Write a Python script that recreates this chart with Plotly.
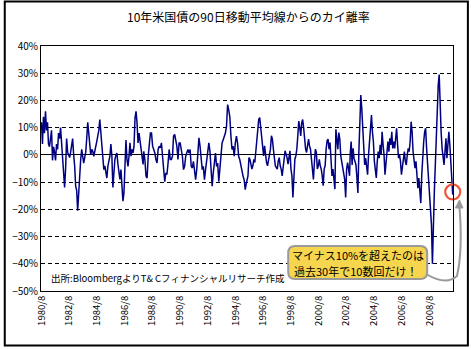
import plotly.graph_objects as go
import pandas as pd

# ---- data (percent deviation from 90-day moving average) ----
seg1_start, seg1_end = "1980-08-01", "1987-12-01"
seg1_vals = [12, 4, 14, 8, 16, 9, 12, 4, 3, 6, 9, -2, 3, 1, -2, 4, 2, 8, 6, 10, 5, 0, -6, -12,
             -5, 6, 1, 0, -1, 1, 3, 6, 0, -4, -11.5, -13, -20.5, -13, -5.5, -1.7, 2, -0.5, -3,
             -1, 1, 6, 12, 8, 4.5, 0, 2, 1.3, -0.5, 1, 3, 5, 7, 9, 13, 8, 3, -0.5, -5.4, -4,
             -6.5, -8.5, -4.2, -1.7, -0.5, 4, -0.5, -12, -6.5, -1.7, 0, 0.7, -3.4, -7, -9, -5.4,
             -11.5, -17, -14, -0.5, 5.5, -1.7, -4.2, -0.5, 4.4, -0.5, 2, 0.7, 3.2, 13.6, 16,
             11.8, 4.4, 8, 5.5, 2, -0.5, -3.5]

seg2_start, seg2_end = "1987-12-20", "1995-05-15"
seg2_vals = [1.3, -1.7, -7.8, -8.5, -0.5, 4.4, 8, 8, 3.2, 2, 0.7, -1.7, -3, 2, 3.2, 2.6, 4.4,
             -0.5, -5.4, -9.8, -6.6, -7.2, -3, 2, -1.7, -1.7, -0.5, 6.9, 7.5, 5.5, 3.2, -1.7,
             4.4, 4.4, 2, -0.5, -5.4, -4.2, -0.5, 0.7, 2, 0.7, 2, -4.2, -4.8, -2.4, -5.4, -9.1,
             -5.4, 2, 6.3, 3.2, -2.4, -5.4, -4.2, -9.1, -5.4, -1.7, 2, 4.4, 1.3, -4.2, -11.5,
             -6.6, -1.7, 0.7, -4.2, -3, -9.8, -5.4, 1.3, 4.4, 5.6, 6.9, 8, 10.5, 18.5, 16.5, 14,
             6.9, 2, 3.2, -0.5, 4.4, 6.9, 4.4, -0.5, -1.7, -4.2, -5.4, -7.8, -9.1, -12.8, -10.4]

seg3_start, seg3_end = "1995-06-01", "2002-10-25"
seg3_vals = [-9, -7.7, -1, -1.6, -3.4, -5.2, -4.0, -1.6, -2.8, 0.9, 5.7, 10.6, 13, 13.7, 9.4, 7,
             2.1, -0.4, 3.3, -1.6, -2.8, -4.0, -1.6, 0.9, 2.1, 7, 5.8, 2.1, -1.6, -4.0, -4.7,
             -5.2, -2.2, -1, -4.0, -5.2, -7.7, -4.0, -1.6, 1.5, 0.2, -1, -3.4, -0.4, 1.5, -5.2,
             -7.7, -15.6, -9, -1.6, -0.4, 2.1, 7, 12.4, 9.9, 7, 11.8, 13, 9.9, 4.5, 2.1, 0.9, 2.7,
             5.8, 3.3, 2.1, -1.6, -5.2, -9, -2.8, 2.1, 0.9, -5.2, -4.0, -1.6, -4.0, -5.2, -7.7,
             -11.3, -5.2, -4.0, 2.1, 5.2, 5.8, 2.1, 4.5, -5.2, -7.7, -5.2, -9, -12.6, 9.4, 5.8,
             2.1, 8.2, 5.8, -0.4, -2.8, -5.2, -6.4, -9, -15.6, -5.2, -2.8, -5.2, -7.7]

seg4_start, seg4_end = "2002-11-10", "2010-04-05"
seg4_vals = [0, 4.9, -3.7, 2.4, -1.2, -2.4, -3.7, -8.5, -14, 1.2, 12.2, 22, 17, 8.5, 0, -3.7,
             -1.2, -3.7, -7.3, 0, 4.9, 9.8, 14.6, 8.5, 4.9, -2.4, -7.3, -8.5, -2.4, 1.2, -1.2,
             3.7, 0, 8.5, 3.7, 0, -7.3, -2.4, 3.7, 4.9, 1.2, 6.1, 3.7, 8.5, 2.4, 4.9, 2.4, 7.3,
             9.8, 3.7, -1.2, 0, -2.4, -7.3, -4.9, -1.2, 1.2, -2.4, -3.7, 0, 2.4, 1.2, 4.9, 12.2,
             8.5, 1.2, -3.7, -4.9, -2.4, -6.1, -12.2, -8.5, -13.4, -17.7, -7.3, 0, 4.9, 8.5, 9.8,
             2.4, -3.7, -7.3, -13.4, -22, -25.6, -40, -22, -13.4, -3.7, 8.5, 14.6, 25.6, 29.5,
             14.6, 8.5, 2.4, 0, -3.7, 1.2, 6.1, -1.2, 2.4, 8.5, 3.7, -3.7, -6.1, -14.6]

tick_dates = [f"{y}-08-01" for y in range(1980, 2009, 2)]
y_ticks = [40, 30, 20, 10, 0, -10, -20, -30, -40, -50]
y_tick_text = ["40%", "30%", "20%", "10%", "0%", "−10%", "−20%", "−30%", "−40%", "−50%"]

title_text = "10年米国債の90日移動平均線からのカイ離率"
source_text = "出所:BloombergよりT& Cフィナンシャルリサーチ作成"
callout_line1 = "マイナス10%を超えたのは"
callout_line2 = "過去30年で10数回だけ！"

# ---- build series ----
dates = []
vals = []
for s, e, v in [(seg1_start, seg1_end, seg1_vals), (seg2_start, seg2_end, seg2_vals),
                (seg3_start, seg3_end, seg3_vals), (seg4_start, seg4_end, seg4_vals)]:
    dates += list(pd.date_range(s, e, periods=len(v)))
    vals += list(v)

W, H = 471, 349
L, R, T, B = 38, 18, 46, 58
PW, PH = W - L - R, H - T - B


def px(x):
    return (x - L) / PW


def py(y):
    return (H - B - y) / PH


JP = "Noto Sans CJK JP, Arial, sans-serif"

fig = go.Figure()
fig.add_trace(go.Scatter(x=dates, y=vals, mode="lines",
                         line=dict(color="#000080", width=1.5), hoverinfo="skip",
                         showlegend=False))
# highlight circle at latest value
fig.add_trace(go.Scatter(x=[dates[-1]], y=[vals[-1] + 1.0], mode="markers",
                         marker=dict(symbol="circle-open", size=15,
                                     line=dict(color="#FF7A1A", width=2.2)),
                         cliponaxis=False, showlegend=False, hoverinfo="skip"))


def rounded_rect(x0, y0, x1, y1, r):
    pts = [
        f"M {px(x0 + r)},{py(y0)}",
        f"L {px(x1 - r)},{py(y0)}",
        f"Q {px(x1)},{py(y0)} {px(x1)},{py(y0 + r)}",
        f"L {px(x1)},{py(y1 - r)}",
        f"Q {px(x1)},{py(y1)} {px(x1 - r)},{py(y1)}",
        f"L {px(x0 + r)},{py(y1)}",
        f"Q {px(x0)},{py(y1)} {px(x0)},{py(y1 - r)}",
        f"L {px(x0)},{py(y0 + r)}",
        f"Q {px(x0)},{py(y0)} {px(x0 + r)},{py(y0)} Z",
    ]
    return " ".join(pts)


shapes = [
    dict(type="rect", xref="paper", yref="paper", x0=px(1.5), x1=px(468), y0=py(1.5), y1=py(345.5),
         line=dict(color="black", width=2), fillcolor="rgba(0,0,0,0)", layer="below"),
    dict(type="path", xref="paper", yref="paper",
         path=f"M {px(426)},{py(274)} Q {px(446)},{py(286)} {px(457)},{py(276)} "
              f"Q {px(463)},{py(250)} {px(459.5)},{py(207)}",
         line=dict(color="#999999", width=2)),
    dict(type="path", xref="paper", yref="paper",
         path=f"M {px(455.5)},{py(208)} L {px(459.5)},{py(200)} L {px(463)},{py(208)} Z",
         line=dict(color="#999999", width=1), fillcolor="#999999"),
    dict(type="path", xref="paper", yref="paper", path=rounded_rect(287, 246, 427, 279, 7),
         line=dict(color="#9A9A9A", width=2), fillcolor="#F6D64E"),
]

annotations = [
    dict(text=title_text, x=px(247), y=py(16), xref="paper", yref="paper", showarrow=False,
         xanchor="center", yanchor="middle", font=dict(family=JP, size=12, color="black")),
    dict(text=source_text, x=px(46), y=py(278), xref="paper", yref="paper", showarrow=False,
         xanchor="left", yanchor="middle", font=dict(family=JP, size=9.5, color="black")),
    dict(text=callout_line1, x=px(357), y=py(255), xref="paper", yref="paper", showarrow=False,
         xanchor="center", yanchor="middle", font=dict(family=JP, size=11, color="black")),
    dict(text=callout_line2, x=px(355), y=py(270.5), xref="paper", yref="paper", showarrow=False,
         xanchor="center", yanchor="middle", font=dict(family=JP, size=11, color="black")),
]

fig.update_layout(
    width=W, height=H,
    margin=dict(l=L, r=R, t=T, b=B),
    paper_bgcolor="white", plot_bgcolor="white",
    shapes=shapes, annotations=annotations,
    showlegend=False,
    xaxis=dict(type="date", range=["1980-07-20", "2010-04-12"],
               tickvals=tick_dates, tickformat="%Y/%-m", tickangle=-90,
               tickfont=dict(family=JP, size=9.5, color="black"),
               showgrid=False, zeroline=False, showline=True, mirror=True,
               linecolor="black", linewidth=1, ticks="", fixedrange=True),
    yaxis=dict(range=[-50, 40], tickvals=y_ticks, ticktext=y_tick_text, tickmode="array",
               tickfont=dict(family=JP, size=10, color="black"),
               showgrid=True, gridcolor="black", griddash="4px,3px", gridwidth=1,
               zeroline=True, zerolinecolor="black", zerolinewidth=1,
               showline=True, mirror=True, linecolor="black", linewidth=1,
               ticks="", fixedrange=True),
)

fig.write_html("out.html")
